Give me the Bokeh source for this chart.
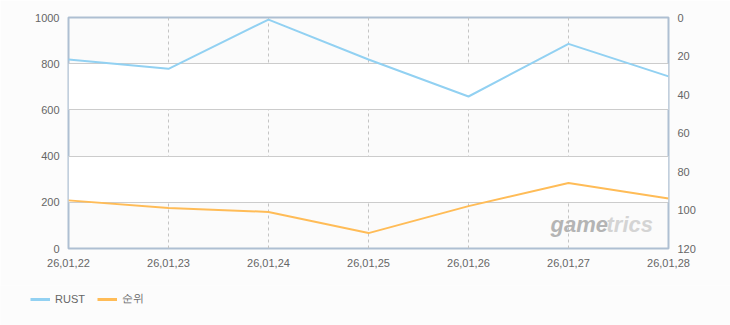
from bokeh.plotting import figure
from bokeh.models import Range1d, LinearAxis, FixedTicker, Legend, LegendItem, Label
from bokeh.layouts import column, row
from bokeh.embed import file_html
from bokeh.resources import INLINE

dates = ["26,01,22", "26,01,23", "26,01,24", "26,01,25", "26,01,26", "26,01,27", "26,01,28"]
rust = [818, 778, 991, 818, 658, 886, 745]
rank = [95, 99, 101, 112, 98, 86, 94]
left_ticks = [0, 200, 400, 600, 800, 1000]
right_ticks = [0, 20, 40, 60, 80, 100, 120]
series_names = ["RUST", "순위"]
series_colors = ["#92d1f2", "#ffbc57"]

xs = list(range(len(dates)))

FONT = "Liberation Sans"
LBL = "#666666"
PAGE = "#fcfcfc"

p = figure(width=730, height=285, output_backend="svg", toolbar_location=None,
           x_range=Range1d(0, len(dates) - 1), y_range=Range1d(0, 1000),
           min_border_left=68, min_border_right=62, min_border_top=17, min_border_bottom=37)
p.border_fill_color = PAGE
p.background_fill_color = "#fbfbfb"
p.outline_line_color = "#aebfd2"
p.outline_line_width = 2

p.extra_y_ranges = {"rank": Range1d(120, 0)}

# grids
p.xgrid.ticker = FixedTicker(ticks=xs[1:-1])
p.xgrid.grid_line_color = "#c4c4c4"
p.xgrid.grid_line_dash = "3 3"
p.ygrid.ticker = FixedTicker(ticks=left_ticks[1:-1])
p.ygrid.grid_line_color = "#cccccc"
p.ygrid.band_fill_color = "#ffffff"
p.ygrid.band_fill_alpha = 1.0

# axes
p.xaxis.ticker = FixedTicker(ticks=xs)
p.xaxis.major_label_overrides = {i: d for i, d in enumerate(dates)}
p.yaxis.ticker = FixedTicker(ticks=left_ticks)

ra = LinearAxis(y_range_name="rank", ticker=FixedTicker(ticks=right_ticks))
p.add_layout(ra, "right")

for ax in p.axis:
    ax.axis_line_color = None
    ax.major_tick_line_color = None
    ax.minor_tick_line_color = None
    ax.major_label_text_color = LBL
    ax.major_label_text_font = FONT
    ax.major_label_text_font_size = "11px"
    ax.major_label_standoff = 3

p.xaxis.major_label_standoff = 4

p.line(xs, rust, line_color=series_colors[0], line_width=2)
p.line(xs, rank, line_color=series_colors[1], line_width=2, y_range_name="rank")

# watermark
p.add_layout(Label(x=4.82, y=50, text="game", text_font=FONT, text_font_style="bold italic",
                   text_font_size="22px", text_color="#b4b4b4"))
p.add_layout(Label(x=5.38, y=50, text="trics", text_font=FONT, text_font_style="bold italic",
                   text_font_size="22px", text_color="#d4d4d4"))

# legend strip (series drawn outside its ranges; only the legend is visible)
lg = figure(width=730, height=40, output_backend="svg", toolbar_location=None,
            x_range=Range1d(-100, -99), y_range=Range1d(-100, -99),
            x_axis_type=None, y_axis_type=None,
            min_border_left=0, min_border_right=0, min_border_top=0, min_border_bottom=0)
lg.border_fill_color = PAGE
lg.background_fill_color = PAGE
lg.outline_line_color = None
lg.grid.visible = False
items = []
for name, col, vals in zip(series_names, series_colors, [rust, rank]):
    r = lg.line(xs, vals, line_color=col, line_width=3)
    items.append(LegendItem(label=name, renderers=[r]))
legend = Legend(items=items, location=(30, 19), orientation="horizontal",
                glyph_width=20, glyph_height=12, label_height=12, label_standoff=5,
                spacing=12, padding=0, margin=0,
                background_fill_alpha=0, border_line_color=None,
                label_text_font=FONT, label_text_font_size="11px", label_text_color=LBL)
lg.add_layout(legend)

layout = column(p, row(lg, spacing=0), spacing=0)
open("out.html", "w").write(file_html(layout, INLINE))
